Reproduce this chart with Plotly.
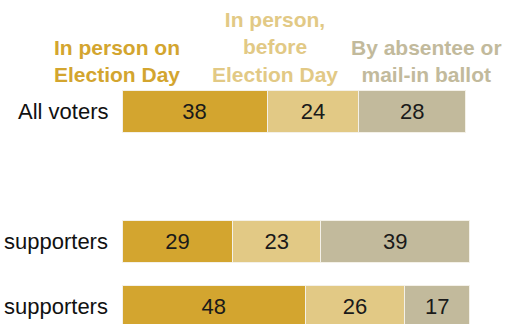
import plotly.graph_objects as go

# Voting method shares (%) by group
row_labels = ["All voters", "supporters", "supporters"]
row_pos = [0, 2, 3]  # row slots; slot 1 left empty as a spacer
methods = ["In person on<br>Election Day", "In person,<br>before<br>Election Day",
           "By absentee or<br>mail-in ballot"]
election_day = [38, 29, 48]
early_in_person = [24, 23, 26]
mail_absentee = [28, 39, 17]

colors = ["#D3A52F", "#E2C985", "#C2BA9C"]
series = [election_day, early_in_person, mail_absentee]

W, H = 514, 324
ML, MR = 122, 10
plot_w = W - ML - MR

fig = go.Figure()
for vals, col in zip(series, colors):
    fig.add_trace(go.Bar(
        y=row_pos, x=vals, orientation="h",
        marker=dict(color=col, line=dict(color="#F4F1E8", width=1)),
        width=0.646,
        text=[str(v) for v in vals], textposition="inside",
        insidetextanchor="middle",
        textfont=dict(family="Arial, Liberation Sans", size=22, color="#1a1a1a"),
        hoverinfo="skip", showlegend=False,
    ))

# Row labels
for lab, p in zip(row_labels, row_pos):
    fig.add_annotation(x=-12 / plot_w, xref="paper", y=p, yref="y",
                       text=lab, showarrow=False, xanchor="right", yanchor="middle",
                       font=dict(family="Arial, Liberation Sans", size=22, color="#111"))

# Column headers above the bars
header_x = [117, 275, 426]
for m, cx, col in zip(methods, header_x, colors):
    fig.add_annotation(x=(cx - ML) / plot_w, xref="paper", y=1 - 88 / H, yref="paper",
                       text="<b>" + m + "</b>", showarrow=False,
                       xanchor="center", yanchor="bottom", align="center",
                       font=dict(family="Arial, Liberation Sans", size=21, color=col))

fig.update_layout(
    barmode="stack", width=W, height=H,
    margin=dict(l=ML, r=MR, t=0, b=0),
    plot_bgcolor="white", paper_bgcolor="white",
    xaxis=dict(range=[0, 100], visible=False, fixedrange=True),
    yaxis=dict(range=[3.262, -1.723], visible=False, fixedrange=True),
    uniformtext=dict(minsize=22, mode="show"),
)

fig.write_html("out.html")
